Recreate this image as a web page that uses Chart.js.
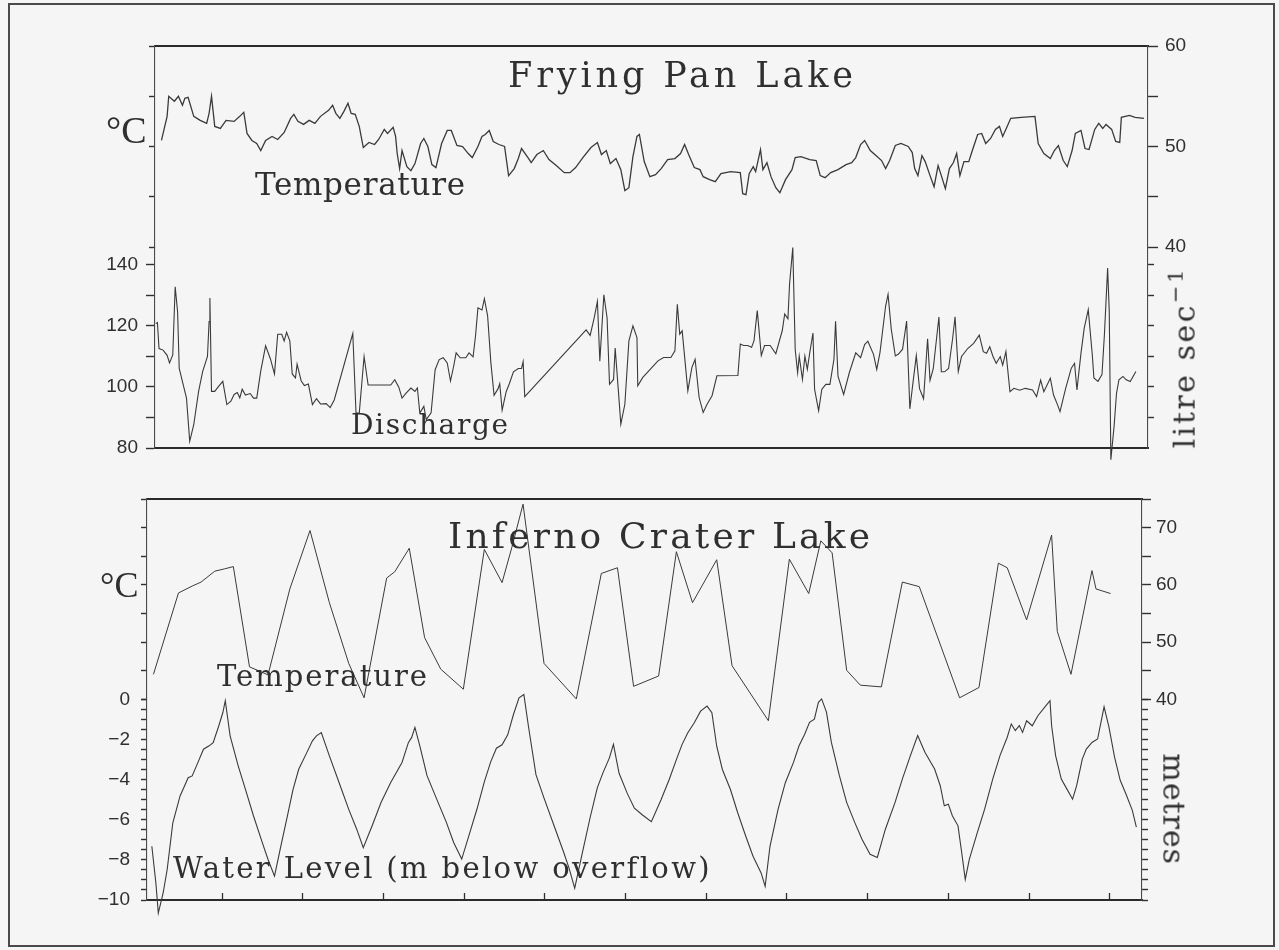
<!DOCTYPE html>
<html>
<head>
<meta charset="utf-8">
<title>Frying Pan Lake and Inferno Crater Lake</title>
<script src="https://cdn.jsdelivr.net/npm/chart.js@4.4.1/dist/chart.umd.min.js"></script>
<style>
  html, body { margin: 0; padding: 0; background: #f5f5f5; }
  #page { position: relative; width: 1279px; height: 950px; overflow: hidden; background: #f5f5f5; }
  #page canvas { position: absolute; left: 0; top: 0; }
  .frame { position: absolute; left: 8px; top: 3px; width: 1267px; height: 944px; border: 2px solid #4a4a4a; box-sizing: border-box; }
  .lbl { position: absolute; font-family: "DejaVu Serif", serif; color: #2f2f2f; white-space: nowrap; line-height: 1; }
  .deg { font-family: "Liberation Serif", serif; }
</style>
</head>
<body>
<div id="page">
  <div class="frame"></div>
  <canvas id="fryingPan" width="1279" height="950"></canvas>
  <canvas id="inferno" width="1279" height="950"></canvas>
</div>
<script>
// Values. x is in months from the first tick mark.

// Frying Pan Lake, temperature (deg C)
const fpMonths = [
  -0.75,-0.68,-0.66,-0.59,-0.54,-0.49,-0.46,-0.42,-0.35,-0.27,
  -0.19,-0.16,-0.13,-0.09,-0.02,0.05,0.15,0.22,0.27,0.31,
  0.37,0.43,0.48,0.54,0.62,0.69,0.77,0.85,0.89,0.94,
  1.01,1.08,1.15,1.22,1.32,1.37,1.41,1.46,1.51,1.56,
  1.60,1.65,1.70,1.75,1.82,1.89,1.94,2.01,2.05,2.12,
  2.15,2.17,2.20,2.23,2.29,2.34,2.39,2.46,2.50,2.55,
  2.60,2.65,2.72,2.79,2.84,2.91,2.98,3.05,3.10,3.17,
  3.22,3.26,3.31,3.36,3.43,3.50,3.55,3.62,3.67,3.71,
  3.79,3.83,3.90,3.98,4.05,4.14,4.24,4.31,4.38,4.47,
  4.57,4.65,4.70,4.76,4.81,4.88,4.94,4.99,5.04,5.09,
  5.14,5.17,5.23,5.30,5.37,5.44,5.52,5.61,5.68,5.73,
  5.78,5.85,5.92,5.96,6.04,6.11,6.18,6.30,6.42,6.45,
  6.49,6.53,6.58,6.61,6.67,6.70,6.75,6.80,6.86,6.91,
  6.98,7.06,7.10,7.17,7.28,7.36,7.41,7.47,7.54,7.63,
  7.73,7.80,7.85,7.91,7.96,8.03,8.10,8.17,8.22,8.27,
  8.34,8.41,8.50,8.55,8.58,8.62,8.67,8.71,8.77,8.82,
  8.87,8.91,8.96,9.01,9.06,9.10,9.14,9.19,9.25,9.29,
  9.36,9.41,9.46,9.52,9.58,9.63,9.67,9.72,9.77,9.90,
  10.07,10.11,10.18,10.26,10.31,10.36,10.42,10.47,10.53,10.57,
  10.64,10.69,10.74,10.81,10.86,10.91,10.95,11.02,11.07,11.12,
  11.14,11.24,11.31,11.42
];
const fpTemp = [
  50.6,53.0,55.0,54.5,55.0,54.1,54.8,54.9,53.0,52.6,
  52.3,53.3,55.0,52.0,51.8,52.6,52.5,53.0,53.4,51.3,
  50.6,50.3,49.6,50.6,51.0,50.7,51.4,52.8,53.2,52.5,
  52.2,52.6,52.3,53.0,53.6,54.1,53.3,52.8,53.5,54.3,
  53.3,53.2,52.0,49.9,50.4,50.2,50.7,51.7,51.3,51.9,
  51.0,49.3,47.8,49.6,48.0,47.6,48.3,50.3,50.8,50.0,
  48.2,47.9,50.3,51.6,51.6,50.1,50.0,49.3,48.9,50.0,
  51.0,51.2,51.6,50.5,50.2,50.0,47.1,47.8,48.8,49.8,
  48.9,48.4,49.2,49.6,48.7,48.1,47.4,47.4,47.9,48.9,
  49.9,50.4,49.2,49.6,48.3,48.8,47.7,45.6,45.9,49.0,
  51.0,51.2,48.5,47.0,47.2,47.8,48.7,48.8,49.3,50.2,
  49.2,47.9,47.7,47.0,46.7,46.5,47.3,47.5,47.4,45.3,
  45.2,47.3,48.0,47.5,49.7,47.7,48.4,47.0,45.9,45.4,
  46.7,47.7,48.9,49.0,48.7,48.6,47.1,46.9,47.4,47.7,
  48.2,48.4,48.9,50.2,50.6,49.6,49.1,48.6,47.8,48.6,
  50.1,50.3,50.0,49.4,47.8,47.1,49.1,48.5,47.1,46.0,
  48.1,47.1,45.8,47.8,48.4,49.3,47.1,48.5,48.5,49.5,
  51.2,51.3,50.3,50.8,51.7,52.0,51.0,51.9,52.8,52.9,
  53.0,50.3,49.3,48.8,49.6,50.1,48.6,48.0,49.6,51.3,
  51.6,49.8,49.7,51.7,52.3,51.8,52.2,51.7,50.5,50.4,
  52.9,53.1,52.9,52.8
];

// Frying Pan Lake, discharge (litre/sec)
const flowMonths = [
  -0.82,-0.80,-0.78,-0.73,-0.68,-0.65,-0.61,-0.58,-0.55,-0.53,
  -0.48,-0.44,-0.40,-0.35,-0.29,-0.24,-0.18,-0.16,-0.15,-0.13,
  -0.09,-0.04,0.01,0.06,0.11,0.15,0.19,0.22,0.25,0.29,
  0.35,0.39,0.43,0.48,0.54,0.60,0.65,0.69,0.74,0.77,
  0.80,0.84,0.87,0.91,0.93,0.98,1.02,1.07,1.12,1.17,
  1.22,1.29,1.34,1.39,1.62,1.66,1.70,1.76,1.81,1.90,
  2.09,2.14,2.19,2.23,2.28,2.34,2.39,2.42,2.45,2.50,
  2.53,2.59,2.64,2.69,2.74,2.79,2.83,2.87,2.90,2.95,
  3.02,3.06,3.11,3.14,3.17,3.22,3.25,3.29,3.33,3.37,
  3.42,3.44,3.47,3.52,3.56,3.61,3.67,3.71,3.73,3.75,
  4.51,4.56,4.61,4.65,4.68,4.73,4.77,4.80,4.85,4.87,
  4.91,4.94,4.99,5.04,5.09,5.14,5.15,5.21,5.40,5.47,
  5.56,5.61,5.64,5.67,5.70,5.77,5.82,5.86,5.91,5.96,
  6.01,6.07,6.13,6.39,6.42,6.46,6.51,6.56,6.59,6.63,
  6.68,6.72,6.79,6.86,6.94,6.97,7.01,7.03,7.07,7.10,
  7.13,7.15,7.19,7.22,7.25,7.28,7.32,7.34,7.39,7.43,
  7.48,7.53,7.58,7.60,7.63,7.70,7.77,7.85,7.91,7.96,
  8.00,8.07,8.11,8.15,8.22,8.25,8.29,8.34,8.38,8.43,
  8.48,8.52,8.55,8.60,8.64,8.69,8.74,8.77,8.81,8.88,
  8.91,8.95,9.00,9.05,9.08,9.12,9.16,9.24,9.31,9.38,
  9.43,9.47,9.51,9.55,9.59,9.64,9.67,9.71,9.76,9.81,
  9.88,9.95,10.04,10.09,10.14,10.18,10.26,10.30,10.35,10.38,
  10.45,10.52,10.56,10.59,10.64,10.68,10.73,10.78,10.80,10.85,
  10.90,10.93,10.97,10.99,11.01,11.05,11.08,11.11,11.16,11.20,
  11.25,11.32
];
const flowRate = [
  120.7,121.0,112.5,112.0,110.3,107.8,110.4,132.7,124.5,106.0,
  100.6,96.3,82.2,87.6,98.5,105.0,109.9,121.3,129.0,98.5,
  98.5,100.2,101.8,94.2,95.3,97.5,98.1,96.4,99.2,97.3,
  97.8,96.3,96.3,105.2,113.4,109.1,104.2,117.2,117.2,115.0,
  117.8,115.0,104.2,102.9,107.4,102.0,100.4,100.9,94.2,96.1,
  94.4,94.5,93.2,95.7,117.4,91.4,91.4,109.9,100.6,100.6,
  100.6,102.3,99.9,96.3,97.9,99.6,98.5,99.6,91.4,93.6,
  89.3,91.5,105.6,108.9,109.5,107.8,101.9,106.8,111.1,109.5,
  109.5,111.1,109.8,116.6,125.8,125.1,128.8,123.2,108.0,97.2,
  99.4,101.0,92.4,98.4,101.1,104.9,106.0,106.0,108.2,96.8,
  118.6,116.8,122.5,127.9,108.4,130.1,122.5,100.8,102.4,112.7,
  98.6,87.8,94.3,115.0,119.9,116.1,100.3,103.0,108.5,109.6,
  109.6,111.8,127.0,117.2,118.3,98.7,106.3,109.0,96.5,91.6,
  94.4,97.1,103.6,103.7,114.0,113.5,113.5,112.9,115.1,124.9,
  110.2,113.5,113.5,110.8,118.4,123.8,122.2,133.6,145.5,112.2,
  104.6,110.0,102.4,110.0,105.7,111.1,117.6,99.2,92.2,99.2,
  100.8,100.8,109.0,121.4,103.5,97.5,104.6,111.1,109.5,113.8,
  114.9,110.6,105.7,111.2,126.4,130.2,118.8,110.1,110.7,112.3,
  121.5,92.8,99.4,110.2,99.4,96.1,115.7,102.1,105.9,122.8,
  104.9,104.9,106.0,115.8,122.9,105.0,109.9,112.6,114.2,116.9,
  111.5,111.0,113.1,109.9,107.7,109.9,107.1,111.5,98.4,99.5,
  98.9,99.5,99.0,96.8,102.2,98.4,102.8,97.3,94.1,91.9,
  99.5,106.1,107.7,99.0,111.0,119.2,125.2,110.5,102.9,101.8,
  104.0,117.0,138.8,124.7,76.2,87.1,97.9,102.3,103.4,102.3,
  101.7,105.0
];

// Inferno Crater Lake, temperature (deg C)
const icMonths = [
  -0.85,-0.54,-0.37,-0.26,-0.09,0.03,0.14,0.34,0.57,0.84,
  1.09,1.33,1.57,1.76,2.04,2.14,2.32,2.51,2.71,2.99,
  3.25,3.47,3.59,3.73,3.99,4.39,4.70,4.90,5.10,5.41,
  5.63,5.83,6.13,6.32,6.77,7.03,7.27,7.42,7.56,7.74,
  7.91,8.17,8.43,8.64,9.14,9.38,9.62,9.73,9.97,10.28,
  10.35,10.52,10.78,10.83,11.01
];
const icTemp = [
  44.4,58.6,59.8,60.5,62.4,62.8,63.2,45.7,44.3,59.3,
  69.5,56.9,46.3,40.3,61.2,62.3,66.4,50.8,45.3,41.8,
  66.2,60.4,66.5,74.1,46.3,40.1,62.0,63.0,42.3,44.1,
  65.8,56.9,64.4,45.9,36.3,64.5,58.5,67.7,65.6,45.1,
  42.5,42.2,60.5,59.7,40.3,42.1,63.8,63.0,53.9,68.7,
  51.9,44.4,62.5,59.3,58.5
];

// Inferno Crater Lake, water level (m below overflow)
const levelMonths = [
  -0.87,-0.82,-0.79,-0.73,-0.68,-0.61,-0.52,-0.42,-0.37,-0.30,
  -0.23,-0.16,-0.11,-0.04,0.01,0.04,0.10,0.20,0.29,0.39,
  0.50,0.57,0.65,0.72,0.81,0.88,0.95,1.05,1.12,1.17,
  1.23,1.33,1.45,1.57,1.67,1.75,1.86,1.97,2.09,2.23,
  2.31,2.35,2.39,2.45,2.54,2.66,2.78,2.87,2.97,3.06,
  3.16,3.25,3.33,3.40,3.47,3.54,3.61,3.68,3.74,3.80,
  3.89,3.99,4.11,4.23,4.30,4.37,4.46,4.56,4.65,4.72,
  4.80,4.85,4.92,5.02,5.11,5.21,5.32,5.44,5.54,5.63,
  5.70,5.77,5.85,5.93,6.01,6.07,6.13,6.20,6.30,6.39,
  6.49,6.58,6.68,6.73,6.79,6.89,6.98,7.08,7.15,7.22,
  7.28,7.34,7.39,7.43,7.49,7.55,7.65,7.74,7.84,7.93,
  8.03,8.12,8.22,8.34,8.43,8.53,8.62,8.71,8.83,8.90,
  8.95,9.00,9.05,9.12,9.16,9.21,9.26,9.36,9.45,9.55,
  9.64,9.73,9.78,9.83,9.88,9.92,9.97,10.04,10.11,10.21,
  10.26,10.28,10.33,10.40,10.47,10.54,10.59,10.66,10.71,10.78,
  10.85,10.90,10.93,10.99,11.06,11.13,11.20,11.28,11.33
];
const waterLevel = [
  -7.32,-9.15,-10.65,-9.65,-8.48,-6.15,-4.81,-3.90,-3.81,-3.15,
  -2.48,-2.31,-2.15,-1.31,-0.65,-0.06,-1.81,-3.31,-4.48,-5.81,
  -7.15,-7.98,-8.81,-7.48,-5.81,-4.48,-3.48,-2.65,-2.06,-1.81,
  -1.65,-2.81,-4.14,-5.48,-6.48,-7.39,-6.30,-5.14,-4.14,-3.14,
  -2.14,-1.89,-1.39,-2.30,-3.80,-4.97,-6.13,-7.13,-7.96,-6.78,
  -5.45,-4.11,-3.10,-2.43,-2.26,-1.76,-0.76,0.08,0.25,-1.42,
  -3.75,-4.92,-6.25,-7.58,-8.41,-9.41,-7.74,-5.91,-4.41,-3.66,
  -2.91,-2.24,-3.68,-4.67,-5.42,-5.76,-6.09,-5.00,-4.00,-3.00,
  -2.25,-1.67,-1.17,-0.58,-0.33,-0.66,-2.33,-3.49,-4.49,-5.65,
  -6.82,-7.82,-8.65,-9.32,-7.32,-5.48,-4.15,-3.15,-2.31,-1.73,
  -1.14,-0.98,-0.14,0.03,-0.63,-2.13,-3.80,-5.13,-6.13,-6.97,
  -7.72,-7.88,-6.47,-5.13,-3.97,-2.80,-1.80,-2.63,-3.47,-4.30,
  -5.30,-5.22,-5.80,-6.30,-7.47,-8.97,-7.97,-6.63,-5.47,-3.97,
  -2.80,-1.88,-1.22,-1.55,-1.30,-1.64,-1.06,-1.31,-0.81,-0.31,
  -0.06,-1.31,-2.81,-3.97,-4.47,-4.97,-4.30,-2.97,-2.47,-2.14,
  -1.97,-0.97,-0.37,-1.37,-2.87,-4.03,-4.70,-5.53,-6.37
];

// Tick marks and tick labels
const monthTicks = [0, 1, 2, 3, 4, 5, 6, 7, 8, 9, 10, 11];
const fpTempTicks = [40, 45, 50, 55, 60];
const fpTempLabels = [40, 50, 60];
const flowTicks = [80, 90, 100, 110, 120, 130, 140];
const flowTicksRight = [90, 100, 110, 120, 130, 140];
const flowLabels = [80, 100, 120, 140];
const icTempTicks = [40, 45, 50, 55, 60, 65, 70, 75];
const icTempLabels = [40, 50, 60, 70];
const levelTicks = [-10, -9.5, -9, -8.5, -8, -7.5, -7, -6.5, -6, -5.5, -5,
  -4.5, -4, -3.5, -3, -2.5, -2, -1.5, -1, -0.5, 0];
const levelLabels = [0, -2, -4, -6, -8, -10];

const INK = '#303030';
Chart.defaults.font.family = '"Liberation Sans", Arial, sans-serif';

function pairs(xs, ys) {
  return xs.map((x, i) => ({ x: x, y: ys[i] }));
}

function signed(v) {
  return v < 0 ? '\u2212' + Math.abs(v) : String(v);
}

// A vertical axis drawn as one piece of a left/right stack
function yAxis(o) {
  return {
    type: 'linear',
    position: o.position,
    stack: o.position,
    stackWeight: 1,
    min: o.min,
    max: o.max,
    afterBuildTicks: s => { s.ticks = o.ticks.map(v => ({ value: v })); },
    afterFit: s => { s.width = o.width; },
    ticks: {
      autoSkip: false,
      padding: o.pad,
      color: INK,
      font: { size: 19 },
      callback: v => (o.labels.includes(v) ? signed(v) : '')
    },
    grid: {
      display: true,
      drawOnChartArea: false,
      drawTicks: true,
      tickLength: o.tickLength,
      tickWidth: 1.4,
      tickColor: INK
    },
    border: { display: true, color: '#4a4a4a', width: 1.1, dash: [7, 2] }
  };
}

// Horizontal axis: only the frame line, plus optional inward ticks
function xAxis(position, min, max, ticks) {
  return {
    type: 'linear',
    position: position,
    min: min,
    max: max,
    afterBuildTicks: s => { s.ticks = ticks.map(v => ({ value: v })); },
    afterFit: s => { s.height = 0; },
    ticks: { display: false },
    grid: {
      display: ticks.length > 0,
      drawOnChartArea: false,
      drawTicks: true,
      tickLength: -7,
      tickWidth: 1.3,
      tickColor: INK
    },
    border: { display: true, color: '#2a2a2a', width: 2 }
  };
}

function lineSet(points, axisId, width) {
  return {
    data: points,
    yAxisID: axisId,
    borderColor: '#3a3a3a',
    borderWidth: width,
    pointRadius: 0,
    tension: 0,
    clip: false
  };
}

function baseOptions(padding, scales) {
  return {
    responsive: false,
    animation: false,
    events: [],
    layout: { padding: padding, autoPadding: false },
    plugins: { legend: { display: false }, tooltip: { enabled: false }, title: { display: false } },
    scales: scales
  };
}

// Upper panel: Frying Pan Lake (plot area 155..1148 x 46..448)
function drawFryingPan() {
  const ctx = document.getElementById('fryingPan').getContext('2d');
  new Chart(ctx, {
    type: 'line',
    data: {
      datasets: [
        lineSet(pairs(fpMonths, fpTemp), 'temp', 1.3),
        lineSet(pairs(flowMonths, flowRate), 'flow', 1.1)
      ]
    },
    options: baseOptions({ left: 95, right: 86, top: 46, bottom: 502 }, {
      x: xAxis('bottom', -0.83, 11.47, []),
      xTop: xAxis('top', -0.83, 11.47, []),
      // left stack: later definition sits on top
      flow: yAxis({ position: 'left', min: 80, max: 145.7, ticks: flowTicks, labels: flowLabels, tickLength: 9, pad: 8, width: 60 }),
      temp: yAxis({ position: 'left', min: 40, max: 60, ticks: fpTempTicks, labels: [], tickLength: 6, pad: 4, width: 60 }),
      // right stack: earlier definition sits on top
      tempR: yAxis({ position: 'right', min: 40, max: 60, ticks: fpTempTicks, labels: fpTempLabels, tickLength: 10, pad: 7, width: 45 }),
      flowR: yAxis({ position: 'right', min: 80, max: 145.7, ticks: flowTicksRight, labels: [], tickLength: 6, pad: 4, width: 45 })
    })
  });
}

// Lower panel: Inferno Crater Lake (plot area 147..1142 x 499..900)
function drawInferno() {
  const ctx = document.getElementById('inferno').getContext('2d');
  new Chart(ctx, {
    type: 'line',
    data: {
      datasets: [
        lineSet(pairs(icMonths, icTemp), 'temp', 1.0),
        lineSet(pairs(levelMonths, waterLevel), 'level', 1.1)
      ]
    },
    options: baseOptions({ left: 87, right: 92, top: 499, bottom: 50 }, {
      x: xAxis('bottom', -0.93, 11.40, monthTicks),
      xTop: xAxis('top', -0.93, 11.40, []),
      level: yAxis({ position: 'left', min: -10, max: 0, ticks: levelTicks, labels: levelLabels, tickLength: 6, pad: 11, width: 60 }),
      temp: yAxis({ position: 'left', min: 40, max: 75, ticks: icTempTicks, labels: [], tickLength: 6, pad: 4, width: 60 }),
      tempR: yAxis({ position: 'right', min: 40, max: 75, ticks: icTempTicks, labels: icTempLabels, tickLength: 9, pad: 5, width: 45 }),
      levelR: yAxis({ position: 'right', min: -10, max: 0, ticks: levelTicks, labels: [], tickLength: 6, pad: 4, width: 45 })
    })
  });
}

// Typewriter style captions placed by their baseline, stretched to the scanned width
function addLabel(html, x, baseline, size, fitWidth, angle, spacing, cls) {
  const page = document.getElementById('page');
  const el = document.createElement('div');
  el.className = 'lbl' + (cls ? ' ' + cls : '');
  el.innerHTML = html;
  el.style.fontSize = size + 'px';
  const ascent = (cls === 'deg' ? 0.8375 : 0.846) * size;
  el.style.left = x + 'px';
  el.style.top = (baseline - ascent) + 'px';
  page.appendChild(el);
  if (fitWidth) {
    const n = el.textContent.length;
    const natural = el.getBoundingClientRect().width;
    el.style.letterSpacing = ((fitWidth - natural) / (n - 1)) + 'px';
  } else if (spacing) {
    el.style.letterSpacing = spacing + 'px';
  }
  if (angle) {
    el.style.transformOrigin = '0px ' + ascent + 'px';
    el.style.transform = 'rotate(' + angle + 'deg)';
  }
}

drawFryingPan();
drawInferno();

addLabel('Frying Pan Lake', 508, 88, 35, 345);
addLabel('Temperature', 255, 195, 31, 210);
addLabel('Discharge', 351, 435, 28, 157);
addLabel('°C', 106, 143, 38, 0, 0, 0, 'deg');
addLabel('litre sec<sup style="font-size:0.7em;line-height:0;vertical-align:0.55em">\u22121</sup>', 1195, 448, 30, 0, -90, 2.5);

addLabel('Inferno Crater Lake', 448, 548, 36, 422);
addLabel('Temperature', 217, 687, 29, 210);
addLabel('Water Level (m below overflow)', 173, 879, 29, 536);
addLabel('°C', 100, 597, 36, 0, 0, 0, 'deg');
addLabel('metres', 1163, 753, 30, 0, 90, 1);
</script>
</body>
</html>
